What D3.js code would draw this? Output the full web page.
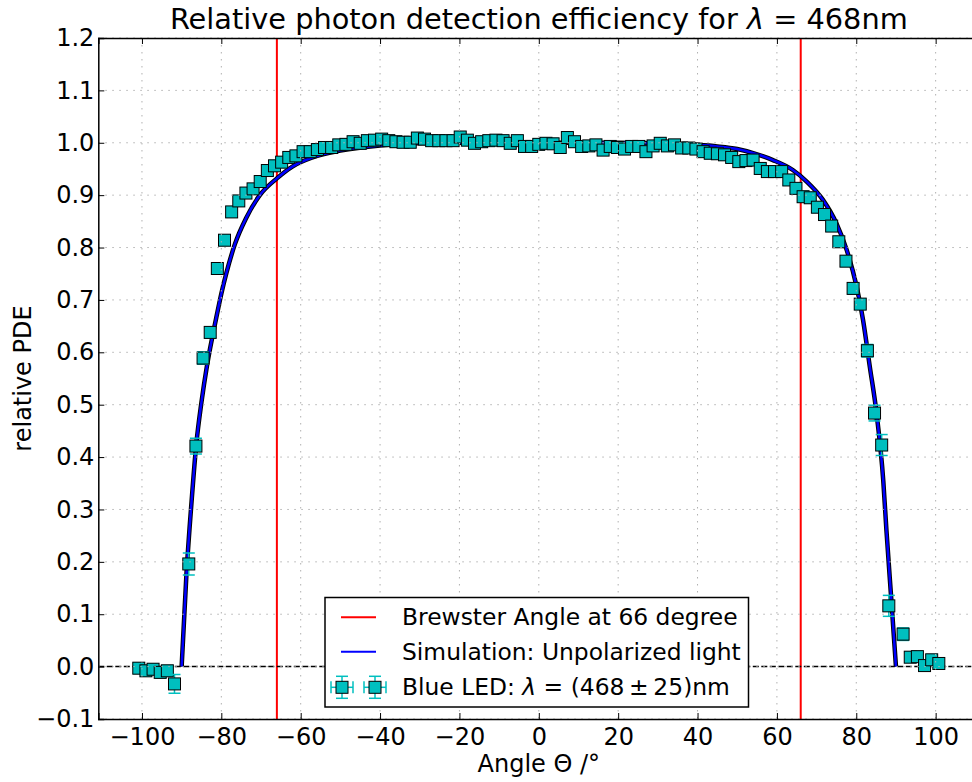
<!DOCTYPE html>
<html>
<head>
<meta charset="utf-8">
<script src="https://cdn.jsdelivr.net/npm/d3@7"></script>
<style>
  body { margin: 0; background: #fff; }
  svg { display: block; font-family: "DejaVu Sans", sans-serif; }
</style>
</head>
<body>
<div id="chart"></div>
<script>
/// measured points, Blue LED (angle in degree, relative PDE, error)
const ledAngle = [-100.8, -99.0, -97.2, -95.4, -93.6, -91.8,
  -88.2, -86.4, -84.6, -82.8, -81.0, -79.2, -77.4, -75.6, -73.8, -72.0, -70.2, -68.4, -66.6, -64.8, -63.0, -61.2,
  -59.4, -57.6, -55.8, -54.0, -52.2, -50.4, -48.6, -46.8, -45.0, -43.2, -41.4, -39.6, -37.8, -36.0, -34.2, -32.4,
  -30.6, -28.8, -27.0, -25.2, -23.4, -21.6, -19.8, -18.0, -16.2, -14.4, -12.6, -10.8, -9.0, -7.2, -5.4, -3.6, -1.8,
  0.0,
  1.8, 3.6, 5.4, 7.2, 9.0, 10.8, 12.6, 14.4, 16.2, 18.0, 19.8, 21.6, 23.4, 25.2, 27.0, 28.8, 30.6, 32.4, 34.2, 36.0,
  37.8, 39.6, 41.4, 43.2, 45.0, 46.8, 48.6, 50.4, 52.2, 54.0, 55.8, 57.6, 59.4, 61.2, 63.0, 64.8, 66.6, 68.4, 70.2,
  72.0, 73.8, 75.6, 77.4, 79.2, 81.0, 82.8, 84.6, 86.4, 88.2,
  91.8, 93.6, 95.4, 97.2, 99.0, 100.8];

const ledPDE = [-0.003, -0.008, -0.005, -0.011, -0.008, -0.033,
  0.196, 0.421, 0.589, 0.638, 0.760, 0.814, 0.868, 0.889, 0.904, 0.912, 0.926, 0.947, 0.956, 0.963, 0.972, 0.975,
  0.983, 0.983, 0.987, 0.991, 0.991, 0.996, 0.997, 1.002, 0.999, 1.004, 1.005, 1.007, 1.004, 1.002, 1.001, 1.001,
  1.009, 1.007, 1.004, 1.004, 1.004, 1.004, 1.011, 1.005, 0.999, 1.002, 1.004, 1.005, 1.004, 0.999, 1.004, 0.993, 0.993,
  0.997,
  0.999, 0.998, 0.991, 1.010, 1.002, 0.993, 0.994, 0.996, 0.986, 0.993, 0.991, 0.988, 0.993, 0.993, 0.983, 0.994,
  0.999, 0.994, 0.996, 0.990, 0.990, 0.988, 0.983, 0.980, 0.979, 0.977, 0.972, 0.964, 0.966, 0.967, 0.951, 0.945,
  0.945, 0.945, 0.929, 0.913, 0.897, 0.895, 0.877, 0.863, 0.841, 0.811, 0.774, 0.722, 0.692, 0.603, 0.484, 0.423, 0.116,
  0.062, 0.018, 0.019, 0.002, 0.013, 0.006];

const ledErr = [0.010, 0.010, 0.010, 0.010, 0.010, 0.018,
  0.021, 0.015, 0.012, 0.010, 0.010, 0.010, 0.010, 0.010, 0.010, 0.010, 0.010, 0.010, 0.010, 0.010, 0.010, 0.010,
  0.010, 0.010, 0.010, 0.010, 0.010, 0.010, 0.010, 0.010, 0.010, 0.010, 0.010, 0.010, 0.010, 0.010, 0.010, 0.010,
  0.010, 0.010, 0.010, 0.010, 0.010, 0.010, 0.010, 0.010, 0.010, 0.010, 0.010, 0.010, 0.010, 0.010, 0.010, 0.010, 0.010,
  0.010,
  0.010, 0.010, 0.010, 0.010, 0.010, 0.010, 0.010, 0.010, 0.010, 0.010, 0.010, 0.010, 0.010, 0.010, 0.010, 0.010,
  0.010, 0.010, 0.010, 0.010, 0.010, 0.010, 0.010, 0.010, 0.010, 0.010, 0.010, 0.010, 0.010, 0.010, 0.010, 0.010,
  0.010, 0.010, 0.010, 0.010, 0.010, 0.010, 0.010, 0.010, 0.010, 0.010, 0.010, 0.010, 0.010, 0.012, 0.015, 0.020,
  0.020, 0.012, 0.010, 0.010, 0.010, 0.010];

/// simulation curve, unpolarized light
const simAngle = [-90, -88.8, -87.5, -86.3, -85, -83.6, -81.3, -80, -78.7, -76.6, -73.7, -70.3, -66, -62, -57, -50,
  -40, -30, -20, -10, 0, 10, 20, 30, 40, 45, 50, 55, 59, 64, 67.5, 71.6, 75, 77.6, 80.1, 81.7, 83.4, 85.1, 86.8,
  87.6, 88.9, 90];
const simPDE = [0, 0.175, 0.315, 0.425, 0.505, 0.575, 0.665, 0.712, 0.752, 0.806, 0.857, 0.900, 0.932, 0.955, 0.972, 0.985,
  0.995, 0.999, 1.0, 1.0, 1.0, 1.0, 1.0, 0.999, 0.996, 0.993, 0.988, 0.978, 0.967, 0.948, 0.926, 0.891, 0.846, 0.795,
  0.725, 0.662, 0.573, 0.484, 0.355, 0.26, 0.12, 0];

const brewsterAngles = [-66, 66];
const xTicks = [-100, -80, -60, -40, -20, 0, 20, 40, 60, 80, 100];
const yTicks = [-0.1, 0.0, 0.1, 0.2, 0.3, 0.4, 0.5, 0.6, 0.7, 0.8, 0.9, 1.0, 1.1, 1.2];

const width = 972, height = 782;
const plotLeft = 98.3, plotTop = 38, plotBottom = 719, plotRight = 979.3;

let svg = d3.select('#chart').append('svg')
  .attr('width', width).attr('height', height);
svg.append('rect').attr('width', width).attr('height', height).attr('fill', '#fff');

let x = d3.scaleLinear().domain([-111, 111]).range([plotLeft, plotRight]);
let y = d3.scaleLinear().domain([-0.1, 1.2]).range([plotBottom, plotTop]);

svg.append('clipPath').attr('id', 'plot-clip')
  .append('rect').attr('x', plotLeft).attr('y', plotTop)
  .attr('width', plotRight - plotLeft).attr('height', plotBottom - plotTop);

let plot = svg.append('g').attr('clip-path', 'url(#plot-clip)');

/// Brewster lines
plot.selectAll('.brewster')
  .data(brewsterAngles)
  .enter().append('line')
  .attr('x1', d => x(d)).attr('x2', d => x(d))
  .attr('y1', plotTop).attr('y2', plotBottom)
  .attr('stroke', '#ff0000').attr('stroke-width', 2);

/// simulation
let simData = simAngle.map((a, i) => [a, simPDE[i]]);
let simLine = d3.line().x(d => x(d[0])).y(d => y(d[1])).curve(d3.curveMonotoneX);

plot.append('path').datum(simData).attr('d', simLine)
  .attr('fill', 'none').attr('stroke', '#000').attr('stroke-width', 4.5);
plot.append('path').datum(simData).attr('d', simLine)
  .attr('fill', 'none').attr('stroke', '#0000ff').attr('stroke-width', 2.5);

/// zero line
plot.append('line')
  .attr('x1', plotLeft).attr('x2', plotRight)
  .attr('y1', y(0)).attr('y2', y(0))
  .attr('stroke', '#000').attr('stroke-width', 1.5).attr('stroke-dasharray', '6,2.5');

/// measured points with error bars
let ledData = ledAngle.map((a, i) => ({ angle: a, pde: ledPDE[i], err: ledErr[i] }));
const cyan = '#00bfbf';
const cap = 6, half = 6;

let pts = plot.selectAll('.led')
  .data(ledData)
  .enter().append('g').attr('class', 'led');

pts.append('line')
  .attr('x1', d => x(d.angle)).attr('x2', d => x(d.angle))
  .attr('y1', d => y(d.pde - d.err)).attr('y2', d => y(d.pde + d.err))
  .attr('stroke', cyan).attr('stroke-width', 1.5);
pts.selectAll('.cap')
  .data(d => [d.pde - d.err, d.pde + d.err].map(v => ({ angle: d.angle, v: v })))
  .enter().append('line')
  .attr('x1', d => x(d.angle) - cap).attr('x2', d => x(d.angle) + cap)
  .attr('y1', d => y(d.v)).attr('y2', d => y(d.v))
  .attr('stroke', cyan).attr('stroke-width', 1.5);
pts.append('rect')
  .attr('x', d => x(d.angle) - half).attr('y', d => y(d.pde) - half)
  .attr('width', half * 2).attr('height', half * 2)
  .attr('fill', cyan).attr('stroke', '#000').attr('stroke-width', 1);

/// dotted grid on top of the data
let grid = svg.append('g').attr('stroke', '#b0b0b0').attr('stroke-width', 1).attr('stroke-dasharray', '1.5,5.5');
grid.selectAll('.gx').data(xTicks).enter().append('line')
  .attr('x1', d => x(d)).attr('x2', d => x(d)).attr('y1', plotTop).attr('y2', plotBottom);
grid.selectAll('.gy').data(yTicks).enter().append('line')
  .attr('x1', plotLeft).attr('x2', width).attr('y1', d => y(d)).attr('y2', d => y(d));

/// axes, ticks inside
let xAxis = svg.append('g').attr('transform', `translate(0,${plotBottom})`)
  .call(d3.axisBottom(x).tickValues(xTicks).tickSize(-6).tickPadding(9).tickFormat(d3.format('d')));
let xAxisTop = svg.append('g').attr('transform', `translate(0,${plotTop})`)
  .call(d3.axisTop(x).tickValues(xTicks).tickSize(-6).tickFormat(''));
let yAxis = svg.append('g').attr('transform', `translate(${plotLeft},0)`)
  .call(d3.axisLeft(y).tickValues(yTicks).tickSize(-6).tickPadding(4).tickFormat(d3.format('.1f')));

[xAxis, xAxisTop, yAxis].forEach(function(a) {
  a.select('.domain').attr('stroke', '#000').attr('stroke-width', 1.5);
  a.selectAll('.tick line').attr('stroke', '#000').attr('stroke-width', 1);
  a.selectAll('.tick text').attr('font-size', 24).attr('font-family', '"DejaVu Sans", sans-serif').attr('fill', '#000');
});

/// title and labels
let title = svg.append('text').attr('x', (plotLeft + plotRight) / 2).attr('y', 29)
  .attr('text-anchor', 'middle').attr('font-size', 28.8);
title.append('tspan').text('Relative photon detection efficiency for ');
title.append('tspan').attr('font-style', 'italic').text('λ');
title.append('tspan').text(' = 468nm');

svg.append('text').attr('x', (plotLeft + plotRight) / 2).attr('y', 772)
  .attr('text-anchor', 'middle').attr('font-size', 24)
  .text('Angle Θ /°');

svg.append('text').attr('transform', `translate(31,${(plotTop + plotBottom) / 2}) rotate(-90)`)
  .attr('text-anchor', 'middle').attr('font-size', 24)
  .text('relative PDE');

/// legend
let legend = svg.append('g');
legend.append('rect').attr('x', 325).attr('y', 597.5).attr('width', 423.5).attr('height', 109.5)
  .attr('fill', '#fff').attr('stroke', '#000').attr('stroke-width', 1.5);

const rows = [617.3, 651.7, 687.3];
legend.append('line').attr('x1', 341).attr('x2', 376).attr('y1', rows[0]).attr('y2', rows[0])
  .attr('stroke', '#ff0000').attr('stroke-width', 2);
legend.append('line').attr('x1', 341).attr('x2', 376).attr('y1', rows[1]).attr('y2', rows[1])
  .attr('stroke', '#0000ff').attr('stroke-width', 2);

[342, 375].forEach(function(cx) {
  let m = legend.append('g').attr('stroke', cyan).attr('stroke-width', 1.5);
  m.append('line').attr('x1', cx - 11).attr('x2', cx + 11).attr('y1', rows[2]).attr('y2', rows[2]);
  m.append('line').attr('x1', cx).attr('x2', cx).attr('y1', rows[2] - 11).attr('y2', rows[2] + 11);
  m.append('line').attr('x1', cx - 11).attr('x2', cx - 11).attr('y1', rows[2] - cap).attr('y2', rows[2] + cap);
  m.append('line').attr('x1', cx + 11).attr('x2', cx + 11).attr('y1', rows[2] - cap).attr('y2', rows[2] + cap);
  m.append('line').attr('x1', cx - cap).attr('x2', cx + cap).attr('y1', rows[2] - 11).attr('y2', rows[2] - 11);
  m.append('line').attr('x1', cx - cap).attr('x2', cx + cap).attr('y1', rows[2] + 11).attr('y2', rows[2] + 11);
  legend.append('rect').attr('x', cx - half).attr('y', rows[2] - half)
    .attr('width', half * 2).attr('height', half * 2)
    .attr('fill', cyan).attr('stroke', '#000').attr('stroke-width', 1);
});

legend.append('text').attr('x', 402).attr('y', rows[0] + 8).attr('font-size', 23.4)
  .text('Brewster Angle at 66 degree');
legend.append('text').attr('x', 402).attr('y', rows[1] + 8).attr('font-size', 23.4)
  .text('Simulation: Unpolarized light');
let ledLabel = legend.append('text').attr('x', 402).attr('y', rows[2] + 8).attr('font-size', 23.4);
ledLabel.append('tspan').text('Blue LED: ');
ledLabel.append('tspan').attr('font-style', 'italic').text('λ');
ledLabel.append('tspan').text(' = (468\u2009±\u200925)nm');
</script>
</body>
</html>
